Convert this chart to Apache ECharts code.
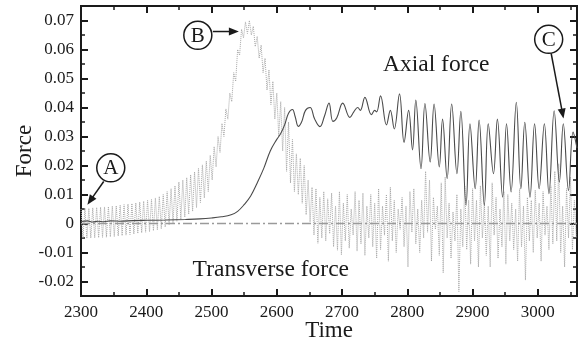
<!DOCTYPE html>
<html>
<head>
<meta charset="utf-8">
<script src="https://cdn.jsdelivr.net/npm/echarts@6/dist/echarts.min.js"></script>
<style>
html,body{margin:0;padding:0;background:#fff;}
#chart{width:582px;height:342px;}
</style>
</head>
<body>
<div id="chart"></div>
<script>
// ---- data ----
var xTicks = [2300, 2400, 2500, 2600, 2700, 2800, 2900, 3000];
var xMinorTicks = [2350, 2450, 2550, 2650, 2750, 2850, 2950, 3050];
var yTicks = [-0.02, -0.01, 0, 0.01, 0.02, 0.03, 0.04, 0.05, 0.06, 0.07];
var yMinorTicks = [-0.015, -0.005, 0.005, 0.015, 0.025, 0.035, 0.045, 0.055, 0.065];

var axialTime = [2300,2310,2318,2326,2335,2345,2360,2380,2400,2430,
  2460,2482,2500,2515,2530,2540,2550,2560,2570,2580,
  2590,2600,2606,2612,2618,2624,2628,2633,2638,2644,
  2651,2658,2666,2673,2680,2686,2692,2701,2712,2718,
  2724,2728,2735,2745,2750,2753,2759,2768,2774,2780,
  2788,2795,2802,2808,2813,2821,2827,2835,2841,2849,
  2854,2861,2868,2876,2882,2890,2896,2904,2910,2918,
  2924,2932,2938,2946,2952,2959,2967,2974,2980,2988,
  2995,3002,3010,3017,3025,3033,3039,3047,3054,3060];
var axialForce = [0.0007,0.0009,0.0005,0.0008,0.0006,0.0009,0.0008,0.0010,0.0011,0.0012,
  0.0014,0.0016,0.0019,0.0023,0.0030,0.0042,0.0065,0.0095,0.0140,0.0190,
  0.0250,0.0290,0.0310,0.0340,0.0380,0.0393,0.0370,0.0335,0.0350,0.0390,
  0.0400,0.0360,0.0334,0.0370,0.0415,0.0352,0.0365,0.0415,0.0366,0.0385,
  0.0400,0.0390,0.0435,0.0375,0.0390,0.0385,0.0440,0.0340,0.0390,0.0326,
  0.0447,0.0280,0.0390,0.0254,0.0426,0.0189,0.0414,0.0212,0.0412,0.0195,
  0.0360,0.0155,0.0412,0.0172,0.0387,0.0063,0.0344,0.0120,0.0357,0.0063,
  0.0344,0.0172,0.0360,0.0091,0.0344,0.0109,0.0418,0.0120,0.0349,0.0091,
  0.0344,0.0120,0.0344,0.0103,0.0389,0.0143,0.0344,0.0114,0.0315,0.0260];

// transverse force sampled every 3 time units starting at 2300
var transStart = 2300;
var transStep = 3;
var transForce = [
  0.0050,-0.0050,0.0053,-0.0051,0.0052,-0.0050,0.0054,-0.0049,0.0055,-0.0049,
  0.0056,-0.0048,0.0057,-0.0047,0.0058,-0.0046,0.0060,-0.0045,0.0061,-0.0043,
  0.0063,-0.0042,0.0065,-0.0040,0.0067,-0.0038,0.0069,-0.0036,0.0071,-0.0034,
  0.0074,-0.0032,0.0077,-0.0030,0.0080,-0.0028,0.0083,-0.0025,0.0088,-0.0022,
  0.0093,-0.0018,0.0100,-0.0012,0.0110,-0.0005,0.0120,0.0002,0.0130,0.0008,
  0.0143,0.0015,0.0150,0.0022,0.0158,0.0032,0.0168,0.0042,0.0178,0.0055,
  0.0190,0.0072,0.0202,0.0088,0.0215,0.0110,0.0235,0.0150,0.0265,0.0195,
  0.0300,0.0245,0.0345,0.0300,0.0395,0.0360,0.0450,0.0420,0.0520,0.0490,
  0.0600,0.0580,0.0670,0.0640,0.0695,0.0655,0.0700,0.0650,0.0680,0.0610,
  0.0645,0.0570,0.0615,0.0520,0.0570,0.0460,0.0530,0.0410,0.0490,0.0360,
  0.0450,0.0300,0.0420,0.0250,0.0400,0.0180,0.0350,0.0140,0.0290,0.0110,
  0.0240,0.0100,0.0225,0.0070,0.0200,0.0030,0.0150,0.0005,0.0125,-0.0040,
  0.0120,-0.0068,0.0090,-0.0050,0.0110,-0.0060,0.0085,-0.0035,0.0105,-0.0080,
  0.0060,-0.0092,0.0110,-0.0108,0.0070,-0.0060,0.0100,-0.0085,0.0050,-0.0040,
  0.0110,-0.0095,0.0080,-0.0070,0.0105,-0.0110,0.0060,-0.0050,0.0100,-0.0080,
  0.0070,-0.0120,0.0120,-0.0090,0.0060,-0.0040,0.0100,-0.0130,0.0125,-0.0060,
  0.0080,-0.0100,0.0050,-0.0020,0.0090,-0.0080,0.0060,-0.0150,0.0110,-0.0030,
  0.0120,-0.0070,0.0050,-0.0100,0.0080,-0.0050,0.0180,-0.0030,0.0150,-0.0130,
  0.0090,-0.0020,0.0060,-0.0110,0.0140,-0.0170,0.0160,-0.0050,0.0070,-0.0120,
  0.0040,-0.0060,0.0100,-0.0235,0.0050,-0.0080,0.0130,-0.0090,0.0080,-0.0140,
  0.0120,-0.0060,0.0080,-0.0150,0.0130,-0.0050,0.0070,-0.0110,0.0060,-0.0150,
  0.0140,-0.0040,0.0090,-0.0120,0.0050,-0.0080,0.0110,-0.0140,0.0100,-0.0060,
  0.0070,-0.0090,0.0050,-0.0130,0.0120,-0.0080,0.0060,-0.0195,0.0090,-0.0060,
  0.0080,-0.0100,0.0115,-0.0050,0.0070,-0.0130,0.0110,-0.0040,0.0060,-0.0090,
  0.0130,-0.0070,0.0180,-0.0060,0.0206,-0.0100,0.0060,-0.0150,0.0120,-0.0050,
  0.0160,-0.0090,0.0080,-0.0050];

var zeroLine = [[2300, 0], [3060, 0]];

// annotations in data coordinates
var circleMarks = [
  {label: 'A', at: [2345.6, 0.0192], from: [2334.8, 0.0145], to: [2309.8, 0.0065]},
  {label: 'B', at: [2479.0, 0.0649], from: [2502.0, 0.0662], to: [2541.9, 0.0662]},
  {label: 'C', at: [3016.6, 0.0635], from: [3020.4, 0.0587], to: [3039.3, 0.0362]}
];
var textMarks = [
  {text: 'Axial force', at: [2762.7, 0.0548]},
  {text: 'Transverse force', at: [2471.0, -0.0159]}
];

// ---- chart ----
var FONT = '"Liberation Serif", "Times New Roman", serif';
var INK = '#1a1a1a';
var transData = transForce.map(function (v, i) { return [transStart + i * transStep, v]; });
var axialData = axialTime.map(function (t, i) { return [t, axialForce[i]]; });

function xAxisDef(pos, ticks, len, labels, extra) {
  var a = {
    type: 'value', position: pos, min: 2300, max: 3060,
    axisLine: {show: true, onZero: false, lineStyle: {color: INK, width: 2}},
    axisTick: {show: true, inside: true, length: len, customValues: ticks, lineStyle: {color: INK, width: len > 5 ? 2 : 1.5}},
    axisLabel: labels ? {show: true, customValues: ticks, fontFamily: FONT, fontSize: 17, color: INK, margin: 8,
      formatter: function (v) { return String(Math.round(v)); }} : {show: false},
    splitLine: {show: false}
  };
  return Object.assign(a, extra || {});
}
function yAxisDef(pos, ticks, len, labels, extra) {
  var a = {
    type: 'value', position: pos, min: -0.025, max: 0.075,
    axisLine: {show: true, onZero: false, lineStyle: {color: INK, width: 2}},
    axisTick: {show: true, inside: true, length: len, customValues: ticks, lineStyle: {color: INK, width: len > 5 ? 2 : 1.5}},
    axisLabel: labels ? {show: true, customValues: ticks, fontFamily: FONT, fontSize: 17, color: INK, margin: 7,
      formatter: function (v) { return String(Math.round(v * 100) / 100); }} : {show: false},
    splitLine: {show: false}
  };
  return Object.assign(a, extra || {});
}

var chart = echarts.init(document.getElementById('chart'), null, {renderer: 'canvas'});
chart.setOption({
  animation: false,
  backgroundColor: '#fff',
  grid: {left: 81, right: 5, top: 6, bottom: 46, containLabel: false, outerBoundsMode: 'none'},
  xAxis: [
    xAxisDef('bottom', xTicks, 7, true, {name: 'Time', nameLocation: 'middle', nameGap: 23, nameMoveOverlap: false,
      nameTextStyle: {fontFamily: FONT, fontSize: 23, color: INK}}),
    xAxisDef('bottom', xMinorTicks, 4, false),
    xAxisDef('top', xTicks, 7, false),
    xAxisDef('top', xMinorTicks, 4, false)
  ],
  yAxis: [
    yAxisDef('left', yTicks, 7, true, {name: 'Force', nameLocation: 'middle', nameGap: 45, nameRotate: 90, nameMoveOverlap: false,
      nameTextStyle: {fontFamily: FONT, fontSize: 23, color: INK}}),
    yAxisDef('left', yMinorTicks, 4, false),
    yAxisDef('right', yTicks, 7, false),
    yAxisDef('right', yMinorTicks, 4, false)
  ],
  series: [
    {type: 'line', name: 'Transverse force', data: transData, showSymbol: false, symbol: 'none',
      lineStyle: {color: '#a8a8a8', width: 1, type: 'dotted'}, z: 2},
    {type: 'line', name: 'zero', data: zeroLine, showSymbol: false, symbol: 'none',
      lineStyle: {color: '#9a9a9a', width: 1.5, type: [9, 3, 2, 3]}, z: 3},
    {type: 'line', name: 'Axial force', data: axialData, showSymbol: false, symbol: 'none', smooth: 0.4,
      lineStyle: {color: '#4a4a4a', width: 1.1}, z: 4}
  ]
});

function px(p) { return chart.convertToPixel({xAxisIndex: 0, yAxisIndex: 0}, p); }
var elems = [];
circleMarks.forEach(function (m) {
  var c = px(m.at);
  elems.push({type: 'circle', shape: {cx: c[0], cy: c[1], r: 14}, style: {fill: '#fff', stroke: INK, lineWidth: 1.5}, z: 10});
  elems.push({type: 'text', x: c[0], y: c[1] + 1, style: {text: m.label, font: '21px ' + FONT, fill: INK, align: 'center', verticalAlign: 'middle'}, z: 11});
  var a = px(m.from), b = px(m.to);
  var dx = b[0] - a[0], dy = b[1] - a[1], L = Math.sqrt(dx * dx + dy * dy);
  var ux = dx / L, uy = dy / L, nx = -uy, ny = ux;
  var hl = 10, hw = 4;
  elems.push({type: 'line', shape: {x1: a[0], y1: a[1], x2: b[0] - ux * hl * 0.8, y2: b[1] - uy * hl * 0.8}, style: {stroke: INK, lineWidth: 1.5}, z: 10});
  elems.push({type: 'polygon', shape: {points: [[b[0], b[1]], [b[0] - ux * hl + nx * hw, b[1] - uy * hl + ny * hw], [b[0] - ux * hl - nx * hw, b[1] - uy * hl - ny * hw]]}, style: {fill: INK}, z: 10});
});
textMarks.forEach(function (m) {
  var c = px(m.at);
  elems.push({type: 'text', x: c[0], y: c[1], style: {text: m.text, font: '23.5px ' + FONT, fill: INK, align: 'left', verticalAlign: 'middle'}, z: 11});
});
chart.setOption({graphic: elems});
</script>
</body>
</html>
